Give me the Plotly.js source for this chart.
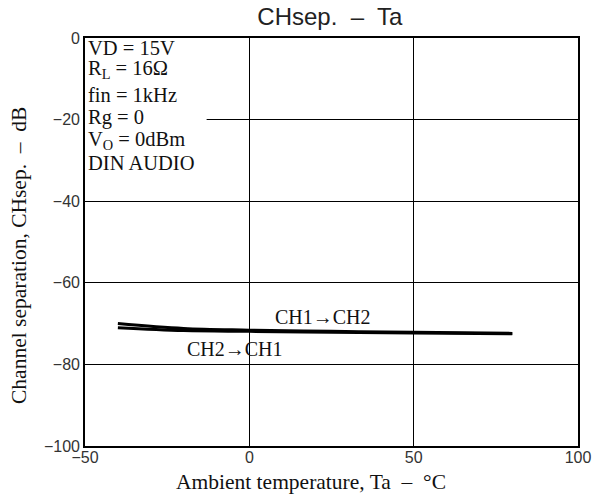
<!DOCTYPE html>
<html>
<head>
<meta charset="utf-8">
<script src="https://cdn.plot.ly/plotly-3.0.1.min.js"></script>
<style>html,body{margin:0;padding:0;background:#fff;}#chart{width:603px;height:495px;}</style>
</head>
<body>
<div id="chart"></div>
<script>
// Data
const temperature = [-40, -20, 0, 25, 50, 80];
const ch1ToCh2 = [-70.0, -71.2, -71.6, -71.9, -72.1, -72.4];
const ch2ToCh1 = [-71.0, -71.7, -71.9, -72.1, -72.3, -72.5];
const xTicks = [-50, 0, 50, 100];
const yTicks = [-100, -80, -60, -40, -20, 0];
const conditionLines = ["VD = 15V", "R<sub>L</sub> = 16Ω", "fin = 1kHz", "Rg = 0", "V<sub>O</sub> = 0dBm", "DIN AUDIO"];
const conditionY = [-2.4, -7.6, -13.9, -19.6, -25.1, -30.6];
const curveLabels = ["CH1→CH2", "CH2→CH1"];
const curveLabelX = [22.4, -4.4];
const curveLabelY = [-68.5, -76.2];

const serif = "Liberation Serif, Times New Roman, serif";
const sans = "Liberation Sans, Arial, sans-serif";

const traces = [
  {x: temperature, y: ch1ToCh2, mode: "lines", line: {color: "#000", width: 3, shape: "spline"}, hoverinfo: "skip"},
  {x: temperature, y: ch2ToCh1, mode: "lines", line: {color: "#000", width: 3, shape: "spline"}, hoverinfo: "skip"}
];

const annotations = [];
conditionLines.forEach((t, i) => annotations.push({
  text: t, x: -49.3, y: conditionY[i], xref: "x", yref: "y", xanchor: "left", yanchor: "middle",
  showarrow: false, borderpad: 0, font: {family: serif, size: 20.5, color: "#111"}
}));
curveLabels.forEach((t, i) => annotations.push({
  text: t, x: curveLabelX[i], y: curveLabelY[i], xref: "x", yref: "y", xanchor: "center", yanchor: "middle",
  showarrow: false, font: {family: serif, size: 20, color: "#111"}
}));
annotations.push({
  text: "Ambient temperature, Ta  –  °C", x: 0.458, y: -0.088, xref: "paper", yref: "paper",
  xanchor: "center", yanchor: "middle", showarrow: false, font: {family: serif, size: 21.5, color: "#111"}
});
annotations.push({
  text: "Channel separation, CHsep.  –  dB", x: -0.134, y: 0.468, xref: "paper", yref: "paper",
  xanchor: "center", yanchor: "middle", textangle: -90, showarrow: false,
  font: {family: serif, size: 21.5, color: "#111"}
});

const layout = {
  width: 603, height: 495,
  margin: {l: 85, r: 25, t: 38, b: 49},
  paper_bgcolor: "#fff", plot_bgcolor: "#fff",
  showlegend: false,
  title: {text: "CHsep.  –  Ta", x: 0.547, xanchor: "center", y: 0.966, yanchor: "middle",
          font: {family: sans, size: 24, color: "#222"}},
  xaxis: {
    range: [-50, 100], tickvals: xTicks, ticks: "", showgrid: true, gridcolor: "#000", gridwidth: 1,
    zeroline: false, showline: true, linecolor: "#000", linewidth: 1.8, mirror: true,
    ticklabelstandoff: -4,
    tickfont: {family: sans, size: 16, color: "#333"}
  },
  yaxis: {
    range: [-100, 0], tickvals: yTicks, ticks: "", showgrid: true, gridcolor: "#000", gridwidth: 1,
    zeroline: false, showline: true, linecolor: "#000", linewidth: 1.8, mirror: true,
    tickfont: {family: sans, size: 16, color: "#333"}
  },
  shapes: [{type: "rect", xref: "x", yref: "y", x0: -50, x1: -13, y0: 0, y1: -35,
            fillcolor: "#fff", line: {width: 0}, layer: "between"}],
  annotations: annotations
};

Plotly.newPlot("chart", traces, layout, {displayModeBar: false, staticPlot: true});
</script>
</body>
</html>
